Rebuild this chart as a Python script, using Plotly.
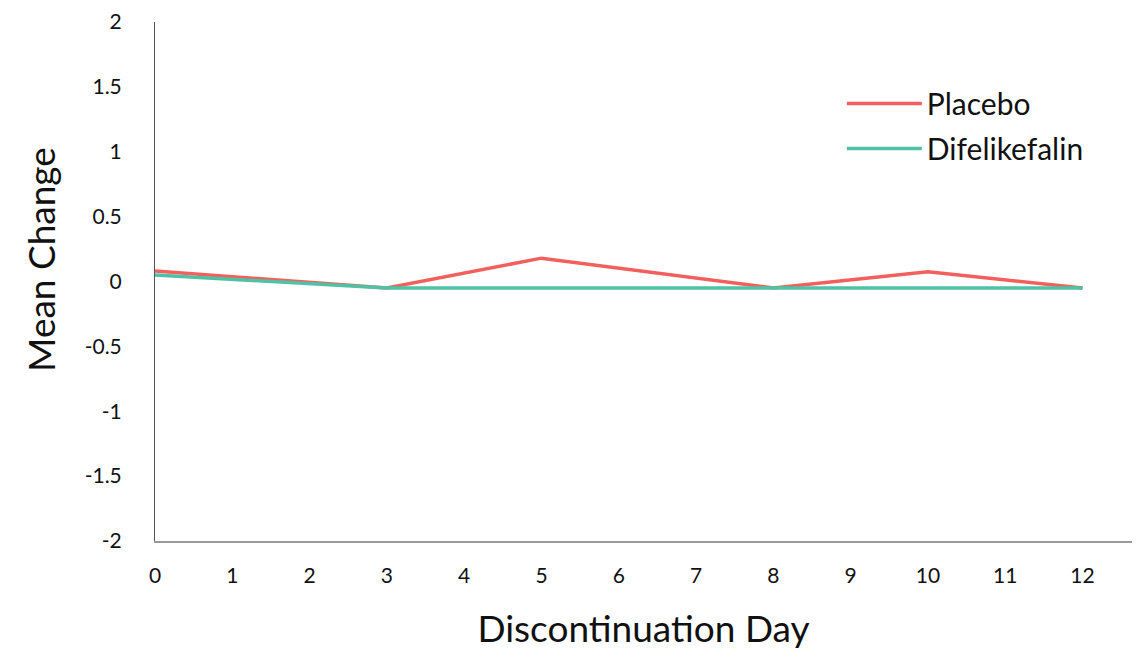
import plotly.graph_objects as go

days = [0, 3, 5, 8, 10, 12]
placebo = [0.08, -0.05, 0.18, -0.05, 0.075, -0.05]
difelikefalin = [0.05, -0.05, -0.05, -0.05, -0.05, -0.05]

x_ticks = list(range(0, 13))
y_ticks = [-2, -1.5, -1, -0.5, 0, 0.5, 1, 1.5, 2]
y_tick_text = ["-2", "-1.5", "-1", "-0.5", "0", "0.5", "1", "1.5", "2"]

FONT = "Lato"

fig = go.Figure()
fig.add_trace(go.Scatter(x=days, y=placebo, mode="lines", name="Placebo",
                         legendgroup="p",
                         line=dict(color="#f2605e", width=3.5)))
fig.add_trace(go.Scatter(x=days, y=difelikefalin, mode="lines", name="Difelikefalin",
                         legendgroup="d",
                         line=dict(color="#4fc2a5", width=3.5)))

# page body has an 8px margin, so the figure is 8px smaller than the window
fig.update_layout(
    width=1137, height=642,
    margin=dict(l=147, r=13, t=14, b=109, autoexpand=False),
    paper_bgcolor="white", plot_bgcolor="white",
    font=dict(family=FONT, color="#111111"),
    showlegend=True,
    legend=dict(x=0.703, y=0.893, xanchor="left", yanchor="top",
                font=dict(size=30, family=FONT, color="#111111"),
                bgcolor="rgba(0,0,0,0)", itemwidth=75, tracegroupgap=3),
    xaxis=dict(range=[0, 12.64], tickvals=x_ticks, ticktext=[str(v) for v in x_ticks],
               showgrid=False, zeroline=False, showline=True, linecolor="#999999", linewidth=2,
               ticks="", ticklabelstandoff=15, tickfont=dict(size=21, family=FONT),
               automargin=False,
               title=dict(text="Discontinuation Day", font=dict(size=37, family=FONT), standoff=32)),
    yaxis=dict(range=[-2, 2], tickvals=y_ticks, ticktext=y_tick_text,
               showgrid=False, zeroline=False, showline=True, linecolor="#555555", linewidth=1,
               ticks="", ticklabelstandoff=28, tickfont=dict(size=21, family=FONT),
               automargin=False),
    annotations=[dict(text="Mean Change", xref="paper", yref="paper",
                      x=-0.118, y=0.543, xanchor="center", yanchor="middle",
                      textangle=-90, showarrow=False,
                      font=dict(size=37, family=FONT, color="#111111"))],
)

fig.write_html("out.html")
